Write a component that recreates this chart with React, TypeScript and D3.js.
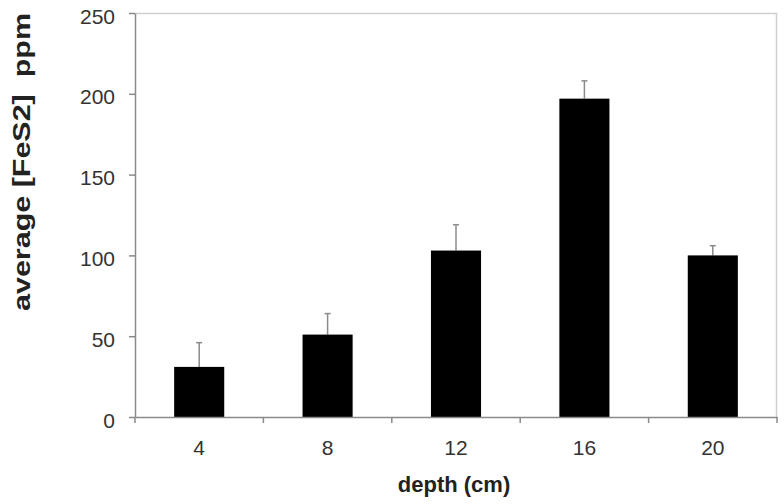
import React, { useEffect, useRef } from "react";
import * as d3 from "d3";

// depth categories and their average FeS2 values with error (upper only)
const depths = ["4", "8", "12", "16", "20"];
const averages = [31, 51, 103, 197, 100];
const errors = [15, 13, 16, 11, 6];
const yTicks = [0, 50, 100, 150, 200, 250];

function App() {
  const ref = useRef<SVGGElement>(null);
  const W = 784;
  const H = 504;
  const margin = { top: 13, right: 7, bottom: 87, left: 135 };
  const width = W - margin.left - margin.right;
  const height = H - margin.top - margin.bottom;

  useEffect(() => {
    const g = d3.select(ref.current);
    g.selectAll("*").remove();

    const x = d3.scaleBand().domain(depths).range([0, width]).paddingInner(0.61).paddingOuter(0.305);
    const y = d3.scaleLinear().domain([0, 250]).range([height, 0]);
    const font = "Arial, 'Liberation Sans', sans-serif";

    // frame top/right
    g.append("line").attr("x1", 0).attr("x2", width).attr("y1", 0.5).attr("y2", 0.5)
      .attr("stroke", "#d0d0d0").attr("stroke-width", 1.5);
    g.append("line").attr("x1", width - 0.5).attr("x2", width - 0.5).attr("y1", 0).attr("y2", height)
      .attr("stroke", "#d0d0d0").attr("stroke-width", 1.5);

    // error bars
    const eb = g.selectAll(".err").data(depths).join("g").attr("class", "err");
    eb.append("line")
      .attr("x1", d => x(d)! + x.bandwidth() / 2)
      .attr("x2", d => x(d)! + x.bandwidth() / 2)
      .attr("y1", (d, i) => y(averages[i]))
      .attr("y2", (d, i) => y(averages[i] + errors[i]))
      .attr("stroke", "#8a8a8a").attr("stroke-width", 1.5);
    eb.append("line")
      .attr("x1", d => x(d)! + x.bandwidth() / 2 - 3)
      .attr("x2", d => x(d)! + x.bandwidth() / 2 + 3)
      .attr("y1", (d, i) => y(averages[i] + errors[i]))
      .attr("y2", (d, i) => y(averages[i] + errors[i]))
      .attr("stroke", "#8a8a8a").attr("stroke-width", 1.5);

    // bars
    g.selectAll(".bar").data(depths).join("rect").attr("class", "bar")
      .attr("x", d => x(d)!)
      .attr("width", x.bandwidth())
      .attr("y", (d, i) => y(averages[i]))
      .attr("height", (d, i) => height - y(averages[i]))
      .attr("fill", "#000");

    // y axis
    const yAxis = g.append("g").call(d3.axisLeft(y).tickValues(yTicks).tickSize(6).tickSizeOuter(0));
    yAxis.select(".domain").attr("stroke", "#8a8a8a").attr("stroke-width", 1.5);
    yAxis.selectAll(".tick line").attr("stroke", "#8a8a8a").attr("stroke-width", 1.5);
    yAxis.selectAll(".tick text").attr("font-family", font).attr("font-size", 21)
      .attr("fill", "#333").attr("x", -20).attr("dy", "0.48em");

    // x axis
    const xAxis = g.append("g").attr("transform", `translate(0,${height})`)
      .call(d3.axisBottom(x).tickSize(0).tickSizeOuter(0));
    xAxis.select(".domain").attr("stroke", "#8a8a8a").attr("stroke-width", 1.5);
    xAxis.selectAll(".tick text").attr("font-family", font).attr("font-size", 21)
      .attr("fill", "#333").attr("y", 0).attr("dy", 38);
    // category boundary ticks
    const bounds = depths.map(d => x(d)! - (x.step() * x.paddingInner()) / 2).concat([width]);
    g.selectAll(".bt").data(bounds).join("line").attr("class", "bt")
      .attr("x1", d => d).attr("x2", d => d)
      .attr("y1", height).attr("y2", height + 6)
      .attr("stroke", "#8a8a8a").attr("stroke-width", 1.5);

    // titles
    g.append("text").attr("x", width / 2 - 2).attr("y", height + 75)
      .attr("text-anchor", "middle").attr("font-family", font).attr("font-weight", "bold")
      .attr("font-size", 22).attr("fill", "#222").text("depth (cm)");
    g.append("text")
      .attr("transform", `translate(${30 - margin.left},${162 - margin.top}) rotate(-90)`)
      .attr("text-anchor", "middle").attr("font-family", font).attr("font-weight", "bold")
      .attr("font-size", 23).attr("fill", "#222").attr("xml:space", "preserve")
      .attr("textLength", 298).attr("lengthAdjust", "spacingAndGlyphs")
      .text("average [FeS2]  ppm");
  }, []);

  return (
    <svg width={W} height={H} style={{ position: "absolute", left: 0, top: 0, background: "#fff" }}>
      <g ref={ref} transform={`translate(${margin.left},${margin.top})`} />
    </svg>
  );
}

export default App;
